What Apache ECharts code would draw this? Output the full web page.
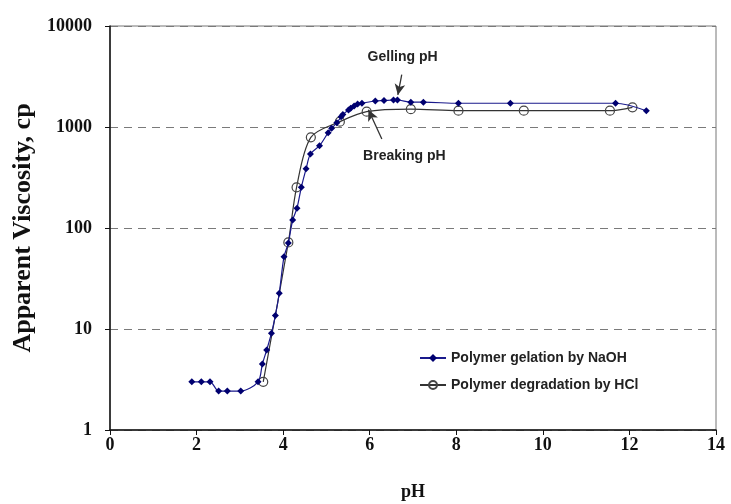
<!DOCTYPE html>
<html>
<head>
<meta charset="utf-8">
<script src="https://cdn.jsdelivr.net/npm/echarts@6/dist/echarts.min.js"></script>
<style>
  html, body { margin: 0; padding: 0; background: #fff; }
  #chart { width: 731px; height: 504px; }
</style>
</head>
<body>
<div id="chart"></div>
<script>
// Apparent viscosity against pH for gelation (NaOH) and degradation (HCl)
const gelationPH = [1.89, 2.11, 2.31, 2.51, 2.71, 3.02, 3.42, 3.52, 3.62, 3.73, 3.82, 3.91, 4.02, 4.12, 4.22, 4.32, 4.42, 4.53, 4.63, 4.84, 5.04, 5.12, 5.24, 5.34, 5.38, 5.51, 5.56, 5.64, 5.72, 5.82, 6.13, 6.33, 6.55, 6.64, 6.95, 7.24, 8.05, 9.25, 11.68, 12.39];
const gelationVisc = [3.0, 3.0, 3.0, 2.43, 2.43, 2.43, 3.0, 4.5, 6.2, 9.1, 13.6, 22.6, 52, 71, 120, 157, 253, 385, 540, 653, 879, 970, 1104, 1260, 1330, 1473, 1530, 1615, 1690, 1720, 1810, 1825, 1850, 1850, 1760, 1760, 1718, 1718, 1718, 1450];

const degradationPH = [3.54, 4.12, 4.31, 4.64, 5.31, 5.93, 6.95, 8.05, 9.56, 11.55, 12.07];
const degradationVisc = [3.0, 72, 253, 790, 1130, 1418, 1500, 1450, 1450, 1450, 1567];

const xTicks = [0, 2, 4, 6, 8, 10, 12, 14];
const yTicks = [1, 10, 100, 1000, 10000];

// Annotation arrows: [start, tip] in data coordinates
const gellingArrow = [[6.74, 3300], [6.65, 2075]];
const breakingArrow = [[6.28, 760], [5.97, 1480]];
const gellingLabelAt = [6.76, 4900];
const breakingLabelAt = [6.80, 520];

const zip = (xs, ys) => xs.map((x, i) => [x, ys[i]]);

const serif = '"Liberation Serif", "Times New Roman", serif';
const sans = '"Liberation Sans", Arial, sans-serif';

const chart = echarts.init(document.getElementById('chart'));

const arrowLine = (pts) => ({
  silent: true,
  symbol: ['none', 'arrow'],
  symbolSize: [8, 11],
  lineStyle: { color: '#333', width: 1.3, type: 'solid' },
  label: { show: false },
  data: [[{ coord: pts[0] }, { coord: pts[1] }]]
});

chart.setOption({
  backgroundColor: '#fff',
  animation: false,
  grid: {
    left: 110, right: 15, top: 26, bottom: 74,
    containLabel: false, outerBoundsMode: 'none',
    show: true, borderColor: '#777', borderWidth: 1
  },
  legend: {
    orient: 'vertical',
    left: 414, top: 346,
    itemWidth: 26, itemHeight: 10, itemGap: 13,
    textStyle: { fontFamily: sans, fontWeight: 'bold', fontSize: 14, color: '#222' },
    data: ['Polymer gelation by NaOH', 'Polymer degradation by HCl']
  },
  xAxis: {
    type: 'value', min: 0, max: 14, interval: 2,
    name: 'pH', nameLocation: 'middle', nameGap: 53,
    nameTextStyle: { fontFamily: serif, fontWeight: 'bold', fontSize: 18, color: '#111' },
    axisLine: { lineStyle: { color: '#111', width: 1.5 } },
    axisTick: { show: true, length: 5, lineStyle: { color: '#111' } },
    axisLabel: {
      fontFamily: serif, fontWeight: 'bold', fontSize: 18, color: '#111', margin: 6,
      formatter: (v) => xTicks.includes(v) ? String(v) : ''
    },
    splitLine: { show: false }
  },
  yAxis: {
    type: 'log', logBase: 10, min: 1, max: 10000,
    name: 'Apparent Viscosity, cp', nameLocation: 'middle', nameGap: 69, nameRotate: 90,
    nameTextStyle: { fontFamily: serif, fontWeight: 'bold', fontSize: 26, color: '#111' },
    axisLine: { lineStyle: { color: '#111', width: 1.5 } },
    axisTick: { show: true, length: 5, lineStyle: { color: '#111' } },
    axisLabel: {
      fontFamily: serif, fontWeight: 'bold', fontSize: 18, color: '#111', margin: 18,
      formatter: (v) => yTicks.includes(Math.round(v)) ? String(Math.round(v)) : ''
    },
    splitLine: {
      show: true,
      lineStyle: { color: '#7a7a7a', type: [8, 6], width: 1 }
    }
  },
  series: [
    {
      name: 'Polymer degradation by HCl',
      type: 'line',
      data: zip(degradationPH, degradationVisc),
      smooth: 0.3,
      symbol: 'circle',
      symbolSize: 9,
      lineStyle: { color: '#333', width: 1.2 },
      itemStyle: { color: 'rgba(255,255,255,0)', borderColor: '#444', borderWidth: 1.2 },
      markLine: arrowLine(breakingArrow),
      z: 2
    },
    {
      name: 'Polymer gelation by NaOH',
      type: 'line',
      data: zip(gelationPH, gelationVisc),
      smooth: 0.3,
      symbol: 'diamond',
      symbolSize: 7,
      lineStyle: { color: '#1a1a8c', width: 1.2 },
      itemStyle: { color: '#000070' },
      markLine: arrowLine(gellingArrow),
      z: 3
    }
  ]
});

// Annotation texts, placed through the axes' scales
function placeLabels() {
  const g = chart.convertToPixel({ gridIndex: 0 }, gellingLabelAt);
  const b = chart.convertToPixel({ gridIndex: 0 }, breakingLabelAt);
  const txt = (p, s) => ({
    type: 'text', x: p[0], y: p[1],
    style: {
      text: s, fill: '#222', font: 'bold 14px ' + sans,
      textAlign: 'center', textVerticalAlign: 'middle'
    }
  });
  chart.setOption({ graphic: [txt(g, 'Gelling pH'), txt(b, 'Breaking pH')] });
}
placeLabels();
</script>
</body>
</html>
